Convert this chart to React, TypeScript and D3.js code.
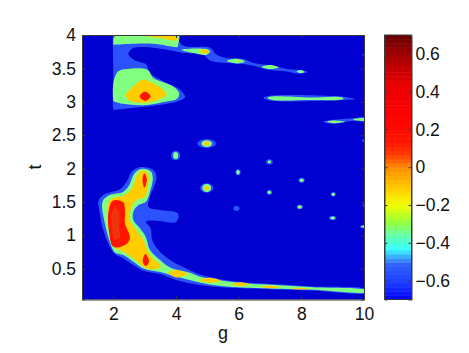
import React, { useEffect, useRef } from 'react';
import * as d3 from 'd3';

type P = [number, number];

// contour band colours, lowest first
const bandColors = ['#0000d0', '#2c52ff', '#80ff80', '#ffcc00', '#ff1400', '#f03008'];

// outlines, as [g, t]
const bandLow: P[][] = [
  // main hook with the long tail
  [[3.01, 2.02], [3.28, 1.98], [3.38, 1.88], [3.3, 1.73], [3.17, 1.58], [3.12, 1.43], [3.49, 1.38], [3.95, 1.355], [4.06, 1.33], [4.08, 1.27], [4.0, 1.2], [3.85, 1.19], [3.49, 1.215], [3.1, 1.22], [3.04, 1.2], [3.19, 1.105], [3.24, 0.93], [3.44, 0.78], [3.81, 0.63], [4.34, 0.5], [4.77, 0.415], [5.72, 0.32], [6.26, 0.295], [7.32, 0.265], [8.38, 0.235], [10.1, 0.19], [10.1, 0.14], [8.38, 0.175], [7.32, 0.19], [6.26, 0.205], [5.72, 0.215], [4.87, 0.25], [4.02, 0.33], [3.49, 0.42], [2.96, 0.47], [2.64, 0.555], [2.32, 0.655], [2.05, 0.72], [1.84, 0.88], [1.68, 1.08], [1.55, 1.38], [1.52, 1.505], [1.68, 1.605], [2.21, 1.69], [2.43, 1.805], [2.59, 1.955], [2.8, 2.015]],
  // top block, lobe and the slanted streak
  [[2, 4.05], [2.01, 4.05], [4.1, 4.05], [4.11, 3.9], [4.29, 3.83], [5.09, 3.81], [5.3, 3.705], [5.62, 3.655], [6.15, 3.64], [6.47, 3.58], [7.11, 3.54], [7.53, 3.49], [8.06, 3.47], [8.2, 3.445], [7.96, 3.42], [7.53, 3.455], [7, 3.475], [6.57, 3.53], [6.15, 3.565], [5.62, 3.58], [5.09, 3.62], [4.87, 3.705], [4.23, 3.73], [3.81, 3.77], [2.96, 3.82], [2.59, 3.795], [2.48, 3.715], [2.69, 3.62], [3.04, 3.565], [3.17, 3.43], [3.7, 3.28], [4.13, 3.18], [4.29, 3.07], [4.02, 3.0], [3.28, 2.94], [2.53, 2.905], [2.01, 2.88], [2, 2.88], [2, 3.4]],
  // long streak near t = 3
  [[6.79, 3.06], [7, 3.09], [9.34, 3.075], [9.71, 3.04], [9.34, 3.025], [7, 3.02]],
  // streak near t = 2.7
  [[8.7, 2.7], [9.02, 2.73], [9.66, 2.755], [10.1, 2.77], [10.1, 2.71], [9.66, 2.715], [9.02, 2.67]],
];

const bandMid: P[][] = [
  [[3.01, 1.995], [3.2, 1.955], [3.26, 1.855], [3.17, 1.655], [3.04, 1.505], [2.8, 1.455], [2.64, 1.355], [2.64, 1.23], [2.85, 1.105], [3.04, 0.97], [3.17, 0.78], [3.49, 0.63], [3.81, 0.52], [4.45, 0.44], [4.77, 0.38], [5.72, 0.305], [6.26, 0.28], [7.32, 0.255], [8.38, 0.225], [10.1, 0.18], [10.1, 0.15], [8.38, 0.185], [7.32, 0.2], [6.26, 0.215], [5.72, 0.23], [4.87, 0.285], [4.02, 0.38], [3.49, 0.45], [2.96, 0.505], [2.64, 0.605], [2.32, 0.705], [2.05, 0.745], [1.87, 0.93], [1.73, 1.18], [1.64, 1.43], [1.68, 1.53], [1.89, 1.605], [2.32, 1.655], [2.51, 1.755], [2.64, 1.905], [2.8, 1.98]],
  [[2, 4.05], [2.01, 4.05], [4.05, 4.05], [4.06, 3.83], [4.05, 3.82], [3.28, 3.87], [2.01, 3.855], [2, 3.855], [2, 3.95]],
  [[3.09, 3.48], [3.28, 3.355], [3.91, 3.23], [4.1, 3.13], [4.04, 3.045], [3.7, 3.005], [2.96, 2.95], [2.32, 2.97], [2.01, 3.01], [2, 3.015], [2, 3.28], [2.11, 3.43], [2.21, 3.47]],
  [[4.18, 3.78], [4.98, 3.79], [5.09, 3.755], [4.98, 3.705], [4.55, 3.73]],
  [[5.62, 3.615], [5.94, 3.645], [6.2, 3.605], [5.94, 3.575]],
  [[6.73, 3.52], [7, 3.55], [7.27, 3.515], [7, 3.49]],
  [[7.85, 3.455], [7.98, 3.475], [8.1, 3.445], [7.98, 3.43]],
  [[6.92, 3.06], [7.05, 3.08], [8.28, 3.065], [9.32, 3.065], [9.34, 3.04], [8.28, 3.025], [7.05, 3.03]],
  [[8.8, 2.7], [9.02, 2.72], [9.4, 2.7], [9.02, 2.68]],
  [[9.66, 2.74], [10.1, 2.75], [10.1, 2.72], [9.66, 2.73]],
];

const bandHigh: P[][] = [
  [[2.98, 1.97], [3.12, 1.905], [3.1, 1.73], [3.01, 1.58], [2.74, 1.53], [2.59, 1.43], [2.51, 1.255], [2.69, 1.105], [2.96, 0.93], [3.17, 0.705], [3.51, 0.53], [3.17, 0.49], [2.96, 0.53], [2.64, 0.655], [2.32, 0.755], [2.05, 0.82], [1.95, 0.93], [1.84, 1.13], [1.81, 1.405], [1.91, 1.54], [2.37, 1.605], [2.59, 1.705], [2.74, 1.88], [2.85, 1.955]],
  [[2.96, 4.05], [4.02, 4.05], [4.03, 3.92], [4, 3.915], [3.49, 3.955], [2.97, 4]],
  [[2.96, 3.33], [3.7, 3.12], [3.49, 3.04], [2.96, 2.98], [2.48, 3.03], [2.4, 3.105], [2.64, 3.23]],
  [[4.74, 3.755], [4.9, 3.785], [5.06, 3.75], [4.93, 3.72]],
  [[3.76, 0.44], [4.02, 0.48], [4.36, 0.42], [4.02, 0.37]],
  [[4.74, 0.33], [5.09, 0.365], [5.43, 0.32], [5.09, 0.29]],
  [[5.78, 0.27], [6.04, 0.3], [6.33, 0.27], [6.04, 0.24]],
  [[6.68, 0.23], [7, 0.245], [7.32, 0.225], [7, 0.21]],
  [[7.64, 0.205], [7.96, 0.217], [8.28, 0.2], [7.96, 0.192]],
];

const bandRed: P[][] = [
  [[1.98, 1.52], [2.32, 1.495], [2.37, 1.355], [2.37, 1.18], [2.53, 0.955], [2.37, 0.855], [2, 0.83], [1.87, 1.03], [1.84, 1.33]],
  [[2.99, 1.93], [3.07, 1.83], [2.99, 1.715], [2.93, 1.83]],
  [[3.02, 0.72], [3.14, 0.615], [3.04, 0.54], [2.94, 0.605]],
  [[3.01, 3.155], [3.19, 3.08], [3.01, 3.015], [2.84, 3.08]],
];

const bandTop: P[][] = [
  [[2.05, 1.43], [2.19, 1.33], [2.19, 1.13], [2.21, 0.97], [2.03, 0.94], [1.95, 1.13], [1.95, 1.355]],
];

// isolated spots: g, t, half width in g, half height in t
const spotsLow = [
  [4.98, 2.375, 0.3, 0.065], [3.99, 2.195, 0.15, 0.072], [4.98, 1.71, 0.21, 0.07], [6.98, 2.1, 0.11, 0.04],
  [5.98, 1.945, 0.085, 0.045], [8.01, 1.825, 0.1, 0.038], [6.98, 1.645, 0.085, 0.038], [9.02, 1.615, 0.08, 0.035],
  [5.93, 1.405, 0.095, 0.04], [7.95, 1.425, 0.1, 0.035], [9, 1.26, 0.12, 0.03], [10, 1.13, 0.13, 0.022],
  [10, 2.42, 0.07, 0.02], [10, 3.705, 0.06, 0.012], [10, 1.45, 0.04, 0.02],
];
const spotsMid = [
  [4.98, 2.375, 0.17, 0.05], [3.99, 2.195, 0.08, 0.052], [4.98, 1.71, 0.14, 0.06], [6.98, 2.1, 0.053, 0.02],
  [5.98, 1.945, 0.053, 0.033], [8.01, 1.825, 0.064, 0.025], [6.98, 1.645, 0.058, 0.025], [9.02, 1.615, 0.053, 0.025],
  [7.95, 1.425, 0.07, 0.025], [9, 1.26, 0.075, 0.022], [10, 1.13, 0.09, 0.017],
];
const spotsHigh = [
  [4.98, 2.375, 0.09, 0.03], [4.98, 1.71, 0.075, 0.035], [5.99, 3.61, 0.05, 0.012], [9.0, 2.7, 0.05, 0.01],
];

const xTicks = [2, 4, 6, 8, 10];
const yTicks = [0.5, 1, 1.5, 2, 2.5, 3, 3.5, 4];
const cbTicks = [-0.6, -0.4, -0.2, 0, 0.2, 0.4, 0.6];

// colour bar stops, value then colour
const cbStopValues = [-0.7, -0.61, -0.51, -0.46, -0.43, -0.36, -0.29, -0.2, -0.12, 0, 0.07, 0.14, 0.28, 0.45, 0.62, 0.7];
const cbStopColors = ['#0000ff', '#1e3cff', '#3264ff', '#3cc8ff', '#3cffff', '#64ffaa', '#96ff3c', '#f0ff00', '#ffd200', '#ff8c00', '#ff3c00', '#ff1400', '#ff0000', '#e60000', '#960000', '#640000'];
const cbBands = 64;

const font = '"Liberation Sans", Arial, sans-serif';

export default function App() {
  const ref = useRef<SVGSVGElement>(null);

  useEffect(() => {
    const svg = d3.select(ref.current);
    svg.selectAll('*').remove();

    const plot = { left: 82, right: 364, top: 35, bottom: 299.5 };
    const bar = { left: 384.5, right: 411.5 };

    const x = d3.scaleLinear().domain([1, 10]).range([plot.left, plot.right]);
    const y = d3.scaleLinear().domain([0.04, 4]).range([plot.bottom, plot.top]);
    const cb = d3.scaleLinear().domain([-0.7, 0.7]).range([plot.bottom, plot.top]);

    const defs = svg.append('defs');
    defs.append('clipPath').attr('id', 'plotClip').append('rect')
      .attr('x', plot.left).attr('y', plot.top)
      .attr('width', plot.right - plot.left).attr('height', plot.bottom - plot.top);
    defs.append('filter').attr('id', 'soft').append('feGaussianBlur').attr('stdDeviation', 0.4);

    const outline = d3.line<P>()
      .x(d => x(d[0]))
      .y(d => y(d[1]))
      .curve(d3.curveCatmullRomClosed.alpha(0.5));

    const g = svg.append('g').attr('clip-path', 'url(#plotClip)').append('g').attr('filter', 'url(#soft)');
    g.append('rect')
      .attr('x', plot.left - 3).attr('y', plot.top - 3)
      .attr('width', plot.right - plot.left + 6).attr('height', plot.bottom - plot.top + 6)
      .attr('fill', bandColors[0]);

    const drawSpots = (spots: number[][], color: string) => {
      g.append('g').selectAll('ellipse').data(spots).enter().append('ellipse')
        .attr('cx', d => x(d[0]))
        .attr('cy', d => y(d[1]))
        .attr('rx', d => x(d[0] + d[2]) - x(d[0]))
        .attr('ry', d => y(d[1]) - y(d[1] + d[3]))
        .attr('fill', color);
    };
    const drawBand = (shapes: P[][], color: string) => {
      g.append('g').selectAll('path').data(shapes).enter().append('path')
        .attr('d', d => outline(d))
        .attr('fill', color);
    };

    drawBand(bandLow, bandColors[1]);
    drawSpots(spotsLow, bandColors[1]);
    drawBand(bandMid, bandColors[2]);
    drawSpots(spotsMid, bandColors[2]);
    drawBand(bandHigh, bandColors[3]);
    drawSpots(spotsHigh, bandColors[3]);
    drawBand(bandRed, bandColors[4]);
    drawBand(bandTop, bandColors[5]);

    // colour bar
    const cbColor = d3.scaleLinear<string>().domain(cbStopValues).range(cbStopColors);
    const step = 1.4 / cbBands;
    svg.append('g').selectAll('rect').data(d3.range(cbBands)).enter().append('rect')
      .attr('x', bar.left)
      .attr('width', bar.right - bar.left)
      .attr('y', i => cb(-0.7 + (i + 1) * step))
      .attr('height', cb(0) - cb(step) + 0.5)
      .attr('fill', i => cbColor(-0.7 + (i + 0.5) * step));

    const styleAxis = (a: any, size: number) => {
      a.selectAll('path').attr('stroke', '#3a3a3a').attr('stroke-width', 1);
      a.selectAll('line').attr('stroke', '#3a3a3a').attr('stroke-width', 1);
      a.selectAll('text').attr('font-family', font).attr('font-size', size).attr('fill', '#111');
    };

    const xFmt = (d: any) => String(d);
    const cbFmt = (d: any) => (d < 0 ? '\u2212' + String(-d) : String(d));

    styleAxis(svg.append('g').attr('transform', `translate(0,${plot.bottom})`)
      .call(d3.axisBottom(x).tickValues(xTicks).tickFormat(xFmt).tickSize(-3).tickPadding(8)), 17.5);
    styleAxis(svg.append('g').attr('transform', `translate(0,${plot.top})`)
      .call(d3.axisTop(x).tickValues(xTicks).tickFormat(() => '').tickSize(-3)), 17.5);
    styleAxis(svg.append('g').attr('transform', `translate(${plot.left},0)`)
      .call(d3.axisLeft(y).tickValues(yTicks).tickFormat(xFmt).tickSize(-3).tickPadding(6)), 17.5);
    styleAxis(svg.append('g').attr('transform', `translate(${plot.right},0)`)
      .call(d3.axisRight(y).tickValues(yTicks).tickFormat(() => '').tickSize(-3)), 17.5);

    styleAxis(svg.append('g').attr('transform', `translate(${bar.left},0)`)
      .call(d3.axisLeft(cb).tickValues(cbTicks).tickFormat(() => '').tickSize(-3)), 17.5);
    styleAxis(svg.append('g').attr('transform', `translate(${bar.right},0)`)
      .call(d3.axisRight(cb).tickValues(cbTicks).tickFormat(cbFmt).tickSize(-3).tickPadding(4)), 17.5);
    svg.append('rect')
      .attr('x', bar.left).attr('y', plot.top)
      .attr('width', bar.right - bar.left).attr('height', plot.bottom - plot.top)
      .attr('fill', 'none').attr('stroke', '#3a3a3a');

    svg.append('text')
      .attr('x', 223).attr('y', 339).attr('text-anchor', 'middle')
      .attr('font-family', font).attr('font-size', 18).attr('fill', '#111')
      .text('g');
    svg.append('text')
      .attr('transform', 'translate(41,167) rotate(-90)').attr('text-anchor', 'middle')
      .attr('font-family', font).attr('font-size', 18).attr('fill', '#111')
      .text('t');
  }, []);

  return (
    <svg ref={ref} width={469} height={353}
      style={{ position: 'absolute', left: 0, top: 0, background: '#fff' }} />
  );
}
